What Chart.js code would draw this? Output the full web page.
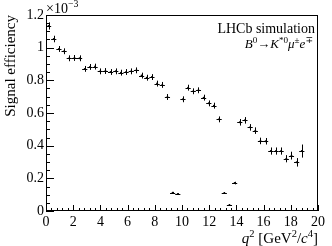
<!DOCTYPE html>
<html>
<head>
<meta charset="utf-8">
<script src="https://cdn.jsdelivr.net/npm/chart.js@4"></script>
<style>
  html, body { margin: 0; padding: 0; background: #fff; }
  #wrap { width: 332px; height: 246px; }
</style>
</head>
<body>
<div id="wrap"><canvas id="chart" width="332" height="246"></canvas></div>
<script>
// q^2 bin centres [GeV^2/c^4], bin half width 0.19
var qsq = [0.19, 0.57, 0.95, 1.33, 1.71, 2.09, 2.47, 2.85, 3.23, 3.61,
    3.99, 4.37, 4.75, 5.13, 5.51, 5.89, 6.27, 6.65, 7.03, 7.41,
    7.79, 8.17, 8.55, 8.93, 9.31, 9.69, 10.07, 10.45, 10.83, 11.21,
    11.59, 11.97, 12.35, 12.73, 13.11, 13.49, 13.87, 14.25, 14.63, 15.01,
    15.39, 15.77, 16.15, 16.53, 16.91, 17.29, 17.67, 18.05, 18.43, 18.81];
var qsqHalf = 0.19;
// signal efficiency in units of 1e-3
var efficiency = [1.133, 1.053, 0.992, 0.978, 0.935, 0.937, 0.935, 0.870, 0.882, 0.884,
    0.855, 0.857, 0.851, 0.855, 0.847, 0.851, 0.855, 0.861, 0.829, 0.816,
    0.820, 0.780, 0.772, 0.698, 0.112, 0.104, 0.684, 0.755, 0.733, 0.739,
    0.694, 0.659, 0.645, 0.561, 0.110, 0.037, 0.171, 0.543, 0.555, 0.512,
    0.492, 0.429, 0.427, 0.367, 0.367, 0.367, 0.320, 0.339, 0.298, 0.367];
var efficiencyErr = [0.022, 0.02, 0.018, 0.018, 0.018, 0.018, 0.018, 0.018, 0.018, 0.018,
    0.018, 0.018, 0.018, 0.018, 0.018, 0.018, 0.018, 0.018, 0.018, 0.018,
    0.018, 0.018, 0.018, 0.018, 0.005, 0.005, 0.018, 0.018, 0.018, 0.018,
    0.018, 0.018, 0.018, 0.018, 0.006, 0.004, 0.008, 0.02, 0.02, 0.02,
    0.02, 0.02, 0.02, 0.022, 0.022, 0.022, 0.022, 0.024, 0.026, 0.04];
var xTicks = [0, 2, 4, 6, 8, 10, 12, 14, 16, 18, 20];
var yTicks = [0, 0.2, 0.4, 0.6, 0.8, 1.0, 1.2];

var serif = "'Liberation Serif', 'DejaVu Serif', serif";

var points = qsq.map(function (q, i) {
    return { x: q, y: efficiency[i] };
});

// draws pieces of text [{t, italic, sup}] starting at x
function drawRich(ctx, pieces, x, y, size, align) {
    var widths = pieces.map(function (p) {
        ctx.font = (p.italic ? "italic " : "") + (p.sup ? size * 0.7 : size) + "px " + serif;
        return ctx.measureText(p.t).width;
    });
    var total = widths.reduce(function (a, b) { return a + b; }, 0);
    var cx = align === "right" ? x - total : x;
    pieces.forEach(function (p, i) {
        ctx.font = (p.italic ? "italic " : "") + (p.sup ? size * 0.7 : size) + "px " + serif;
        ctx.fillText(p.t, cx, p.sup ? y - size * 0.42 : y);
        cx += widths[i];
    });
}

var rootStyle = {
    id: "rootStyle",
    afterDatasetsDraw: function (chart) {
        var ctx = chart.ctx;
        var xs = chart.scales.x, ys = chart.scales.y;
        ctx.save();
        ctx.strokeStyle = "#000";
        ctx.lineWidth = 1;
        ctx.beginPath();
        points.forEach(function (p, i) {
            var px = Math.round(xs.getPixelForValue(p.x)) + 0.5;
            var py = Math.round(ys.getPixelForValue(p.y)) + 0.5;
            var x0 = xs.getPixelForValue(p.x - qsqHalf), x1 = xs.getPixelForValue(p.x + qsqHalf);
            var y0 = ys.getPixelForValue(p.y - efficiencyErr[i]), y1 = ys.getPixelForValue(p.y + efficiencyErr[i]);
            ctx.moveTo(x0, py); ctx.lineTo(x1, py);
            ctx.moveTo(px, y0); ctx.lineTo(px, y1);
        });
        ctx.stroke();
        ctx.restore();
    },
    afterDraw: function (chart) {
        var ctx = chart.ctx;
        var a = chart.chartArea;
        var xs = chart.scales.x, ys = chart.scales.y;
        ctx.save();
        ctx.strokeStyle = "#000";
        ctx.lineWidth = 1;
        ctx.strokeRect(Math.round(a.left) + 0.5, Math.round(a.top) + 0.5,
            Math.round(a.right - a.left) - 1, Math.round(a.bottom - a.top) - 1);

        // ticks pointing inside the frame
        ctx.beginPath();
        var v, px, py;
        for (v = 0; v <= 20.001; v += 0.4) {
            px = Math.round(xs.getPixelForValue(v)) + 0.5;
            var major = Math.abs(v / 2 - Math.round(v / 2)) < 0.01;
            ctx.moveTo(px, a.bottom);
            ctx.lineTo(px, a.bottom - (major ? 6 : 3));
        }
        for (v = 0; v <= 1.2001; v += 0.05) {
            py = Math.round(ys.getPixelForValue(v)) + 0.5;
            var majorY = Math.abs(v / 0.2 - Math.round(v / 0.2)) < 0.01;
            ctx.moveTo(a.left, py);
            ctx.lineTo(a.left + (majorY ? 8 : 4), py);
        }
        ctx.stroke();

        ctx.fillStyle = "#000";
        ctx.textBaseline = "alphabetic";
        ctx.textAlign = "left";
        // exponent
        drawRich(ctx, [{ t: "\u00d710" }, { t: "\u22123", sup: true }], a.left, 13, 14);
        // legend texts
        drawRich(ctx, [{ t: "LHCb simulation" }], a.right - 3, 33, 14, "right");
        drawRich(ctx, [{ t: "B", italic: true }, { t: "0", sup: true }, { t: "\u2192" },
            { t: "K", italic: true }, { t: "*0", sup: true }, { t: "\u03bc", italic: true },
            { t: "\u00b1", sup: true }, { t: "e", italic: true }, { t: "\u2213", sup: true }],
            a.right - 5, 48, 13, "right");
        // x title
        drawRich(ctx, [{ t: "q", italic: true }, { t: "2", sup: true }, { t: " [GeV" },
            { t: "2", sup: true }, { t: "/" }, { t: "c", italic: true }, { t: "4", sup: true },
            { t: "]" }], a.right, 243, 15, "right");
        // y title
        ctx.translate(15, a.top);
        ctx.rotate(-Math.PI / 2);
        ctx.textAlign = "right";
        ctx.font = "15px " + serif;
        ctx.fillText("Signal efficiency", 0, 0);
        ctx.restore();
    }
};

var chart = new Chart(document.getElementById("chart").getContext("2d"), {
    type: "scatter",
    data: {
        datasets: [{
            data: points,
            pointRadius: 1,
            pointBackgroundColor: "#000",
            pointBorderWidth: 0,
            showLine: false
        }]
    },
    options: {
        responsive: false,
        animation: false,
        events: [],
        layout: { padding: { top: 15, right: 14, left: 0, bottom: 0 } },
        plugins: { legend: { display: false }, tooltip: { enabled: false } },
        scales: {
            x: {
                type: "linear",
                min: 0,
                max: 20,
                afterFit: function (scale) { scale.height = 35; },
                afterBuildTicks: function (scale) {
                    scale.ticks = xTicks.map(function (v) { return { value: v }; });
                },
                grid: { display: false, drawTicks: false },
                border: { display: false },
                ticks: {
                    color: "#000",
                    padding: 3,
                    maxRotation: 0,
                    autoSkip: false,
                    font: { family: serif, size: 14 }
                }
            },
            y: {
                type: "linear",
                min: 0,
                max: 1.2,
                afterFit: function (scale) { scale.width = 46; },
                afterBuildTicks: function (scale) {
                    scale.ticks = yTicks.map(function (v) { return { value: v }; });
                },
                grid: { display: false, drawTicks: false },
                border: { display: false },
                ticks: {
                    color: "#000",
                    padding: 2,
                    autoSkip: false,
                    font: { family: serif, size: 14 },
                    callback: function (value) {
                        return String(Number(value.toFixed(1)));
                    }
                }
            }
        }
    },
    plugins: [rootStyle]
});
</script>
</body>
</html>
